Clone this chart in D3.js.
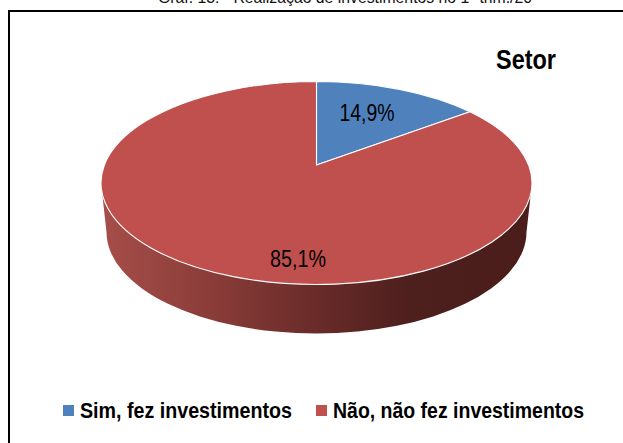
<!DOCTYPE html>
<html><head><meta charset="utf-8">
<script src="https://cdn.jsdelivr.net/npm/d3@7/dist/d3.min.js"></script>
<style>html,body{margin:0;padding:0;background:#fff;overflow:hidden}svg{display:block}text{font-family:"Liberation Sans",Arial,sans-serif}</style>
</head><body><script>
const categories = ["Sim, fez investimentos", "Não, não fez investimentos"];
const values = [14.9, 85.1];
const labels = ["14,9%", "85,1%"];
const colors = ["#4f81bd", "#c0504d"];
const captionText = "Gráf. 13: - Realização de investimentos no 1º trim./20";
const titleText = "Setor";

const W = 623, H = 443, cx = 316.5, cy = 183, rx = 215.5, ry = 101.5;
const apexShift = -0.178;          // perspective: the pie's centre sits above the ellipse's centre
const baseCy = 232, baseRx = 210;  // the lower rim ellipse is slightly narrower
const svg = d3.select("body").append("svg").attr("width", W).attr("height", H);
const defs = svg.append("defs");

const grad = defs.append("linearGradient").attr("id", "side").attr("gradientUnits", "userSpaceOnUse")
  .attr("x1", cx - rx).attr("x2", cx + rx).attr("y1", 0).attr("y2", 0);
[[0, "#a64e4a"], [0.22, "#8f3f3b"], [0.46, "#6e2e2b"], [0.72, "#4d1f1d"], [1, "#4a1d1b"]]
  .forEach(([o, c]) => grad.append("stop").attr("offset", o).attr("stop-color", c));

svg.append("text").attr("x", 345).attr("y", 3).attr("text-anchor", "middle")
  .attr("font-size", 16).attr("fill", "#111")
  .attr("textLength", 374).attr("lengthAdjust", "spacingAndGlyphs").text(captionText);
svg.append("rect").attr("x", 9).attr("y", 11).attr("width", 640).attr("height", 440)
  .attr("fill", "#fff").attr("stroke", "#000").attr("stroke-width", 2);

const sx = d3.scaleLinear().domain([-1, 1]).range([cx - rx, cx + rx]);
const sy = d3.scaleLinear().domain([-1, 1]).range([cy - ry, cy + ry]);

// Where a ray from the shifted pie centre, at a pie angle, meets the unit circle.
function project(a) {
  const dx = Math.sin(a), dy = -Math.cos(a);
  const b = apexShift * dy;
  const t = -b + Math.sqrt(b * b - (apexShift * apexShift - 1));
  return [sx(dx * t), sy(apexShift + dy * t)];
}

svg.append("path").attr("fill", "url(#side)")
  .attr("d", `M${sx(-1)},${cy}L${cx - baseRx},${baseCy}A${baseRx},${ry} 0 0 0 ${cx + baseRx},${baseCy}L${sx(1)},${cy}Z`);

const pie = d3.pie().sort(null).value(d => d)(values);
svg.append("g").selectAll("path").data(pie).join("path")
  .attr("d", d => {
    const p0 = project(d.startAngle), p1 = project(d.endAngle);
    const large = d.endAngle - d.startAngle > Math.PI ? 1 : 0;
    return `M${cx},${sy(apexShift)}L${p0}A${rx},${ry} 0 ${large} 1 ${p1}Z`;
  })
  .attr("fill", (d, i) => colors[i])
  .attr("stroke", "#fff").attr("stroke-width", 1.1).attr("stroke-linejoin", "round");

svg.append("text").attr("x", 367).attr("y", 121).attr("text-anchor", "middle").attr("font-size", 23)
  .attr("textLength", 55).attr("lengthAdjust", "spacingAndGlyphs").text(labels[0]);
svg.append("text").attr("x", 298).attr("y", 267).attr("text-anchor", "middle").attr("font-size", 23)
  .attr("textLength", 56).attr("lengthAdjust", "spacingAndGlyphs").text(labels[1]);
svg.append("text").attr("x", 526).attr("y", 69).attr("text-anchor", "middle").attr("font-size", 28)
  .attr("font-weight", "bold").attr("textLength", 60).attr("lengthAdjust", "spacingAndGlyphs").text(titleText);

const legend = [{x: 63, tx: 80, w: 212}, {x: 316, tx: 333, w: 251}];
legend.forEach((l, i) => {
  svg.append("rect").attr("x", l.x).attr("y", 405).attr("width", 11).attr("height", 11).attr("fill", colors[i]);
  svg.append("text").attr("x", l.tx).attr("y", 418).attr("font-size", 22).attr("font-weight", "bold")
    .attr("textLength", l.w).attr("lengthAdjust", "spacingAndGlyphs").text(categories[i]);
});
</script></body></html>
